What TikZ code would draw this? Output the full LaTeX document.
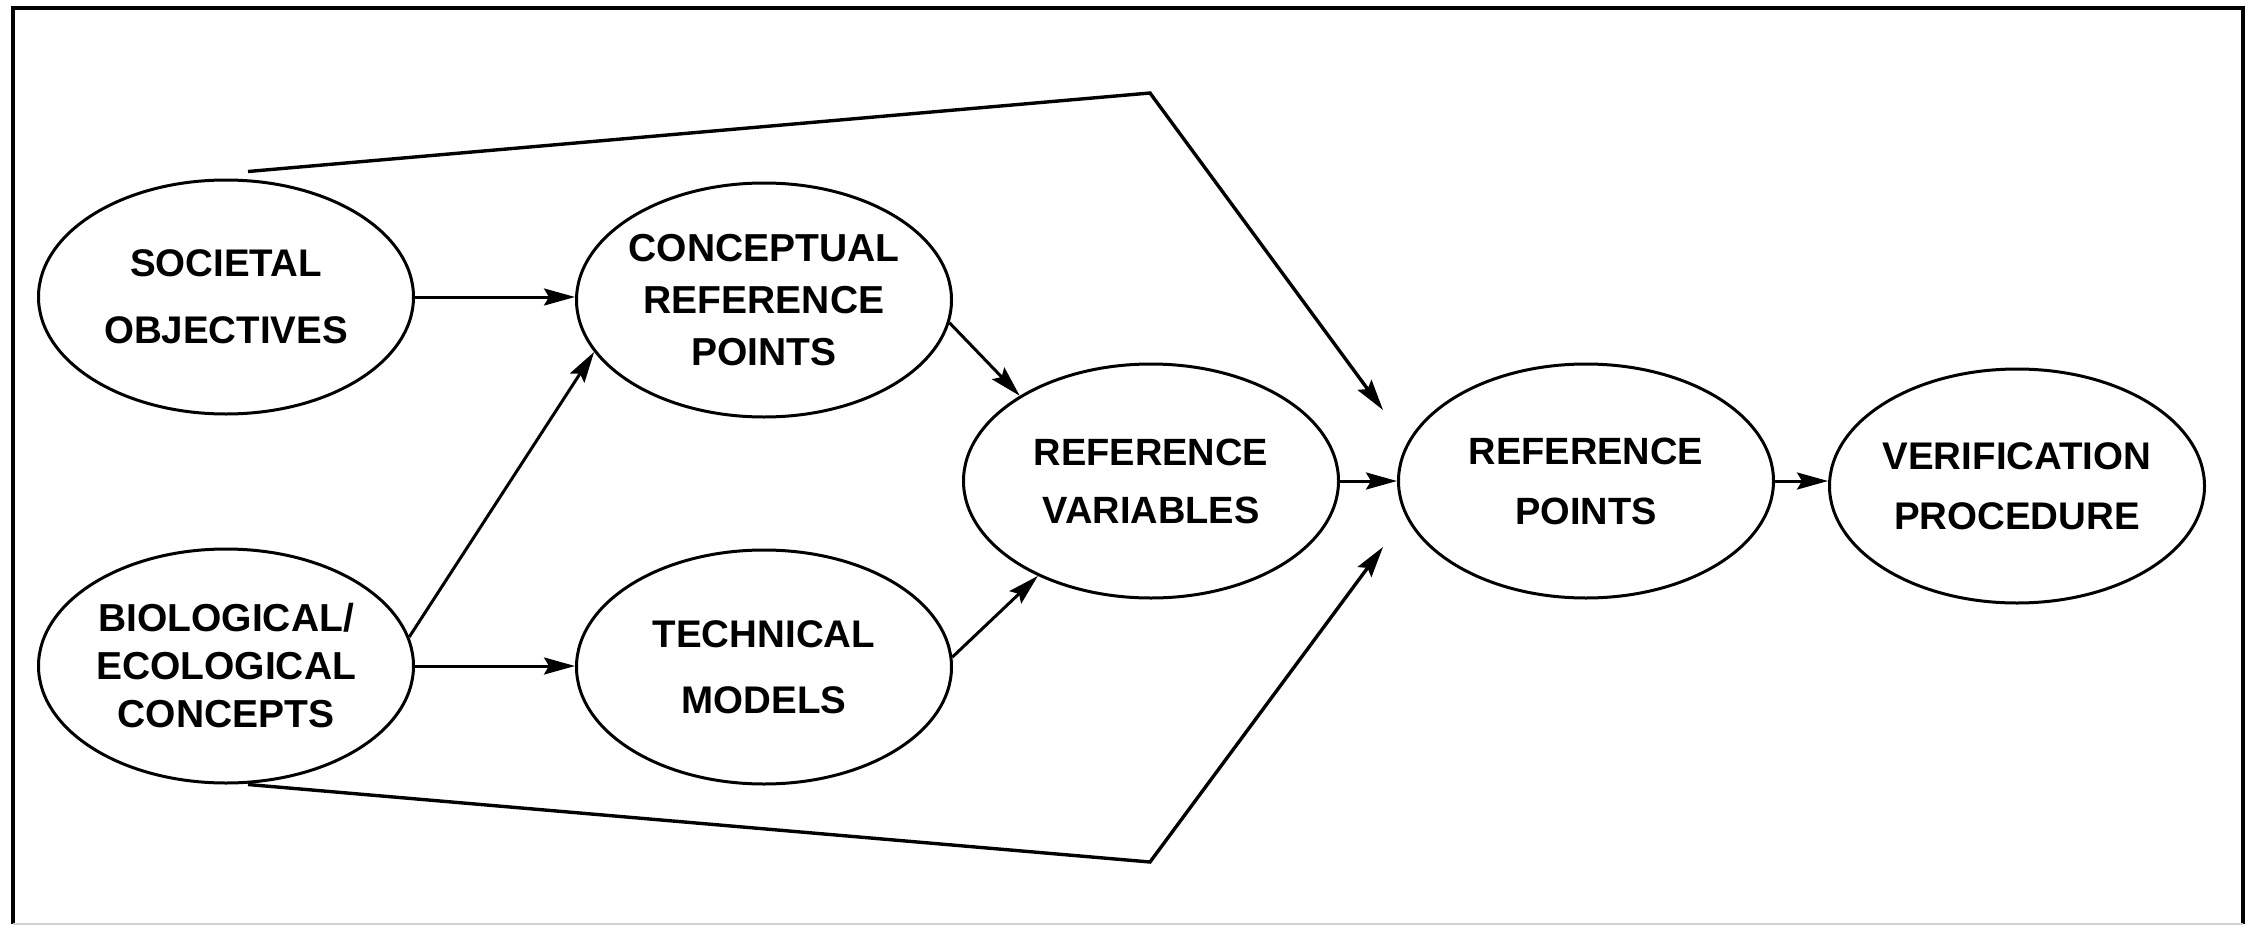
\documentclass[tikz,border=0pt]{standalone}
\usepackage{fontspec}
\setmainfont{Liberation Sans}
\usetikzlibrary{shapes.geometric,arrows.meta}
\begin{document}
\begin{tikzpicture}[x=1pt,y=-1pt,
  oval/.style={draw,ellipse,line width=3pt,minimum width=375pt,minimum height=234pt,inner sep=0pt},
  lbl/.style={align=center,inner sep=0pt},
  arr/.style={line width=3pt,-{Stealth[length=31pt,width=17pt,inset=5pt]}},
  frame/.style={line width=3.5pt}]
\useasboundingbox (0,0) rectangle (2260,926);
% frame
\draw[frame] (13,924) -- (13,8) -- (2243,8) -- (2243,924);
\draw[gray!35,line width=2pt] (13,924) -- (2243,924);
% ellipses
\node[oval] (soc) at (226,297) {};
\node[oval] (bio) at (226,666) {};
\node[oval] (conc) at (764,300) {};
\node[oval] (tech) at (764,667) {};
\node[oval] (rv) at (1151,481) {};
\node[oval] (rp) at (1586,481) {};
\node[oval] (ver) at (2017,486) {};
% labels
\node[lbl,font=\bfseries\fontsize{38.5}{67}\selectfont] (soc-t) at (soc.center) {SOCIETAL\\OBJECTIVES};
\node[lbl,font=\bfseries\fontsize{39}{48}\selectfont] (bio-t) at (bio.center) {BIOLOGICAL/\\ECOLOGICAL\\CONCEPTS};
\node[lbl,font=\bfseries\fontsize{39}{52}\selectfont] (conc-t) at (conc.center) {CONCEPTUAL\\REFERENCE\\POINTS};
\node[lbl,font=\bfseries\fontsize{38.5}{66}\selectfont] (tech-t) at (tech.center) {TECHNICAL\\MODELS};
\node[lbl,font=\bfseries\fontsize{38}{58}\selectfont] (rv-t) at (rv.center) {REFERENCE\\VARIABLES};
\node[lbl,font=\bfseries\fontsize{38}{60}\selectfont] (rp-t) at (rp.center) {REFERENCE\\POINTS};
\node[lbl,font=\bfseries\fontsize{38.5}{60}\selectfont] (ver-t) at (ver.center) {VERIFICATION\\PROCEDURE};
% connectors
\draw[arr] (soc.east) -- (soc.east -| conc.west);
\draw[arr] (bio.east) -- (bio.east -| tech.west);
\draw[arr] (bio.9) -- (conc.197);
\draw[arr] (conc.-7) -- (rv.147);
\draw[arr] (tech.3) -- (rv.220);
\draw[arr] (rv.east) -- (rv.east -| rp.west);
\draw[arr] (rp.east) -- (rp.east -| ver.west);
% long bypass connectors
\coordinate (tA) at (1150,93);
\coordinate (tB) at (1383,410);
\coordinate (bA) at (1150,862);
\coordinate (bB) at (1383,547);
\draw[arr,line width=3.4pt] ([shift={(22,-7)}]soc.north) -- (tA) -- (tB);
\draw[arr,line width=3.4pt] ([shift={(22,0)}]bio.south) -- (bA) -- (bB);
\end{tikzpicture}
\end{document}
